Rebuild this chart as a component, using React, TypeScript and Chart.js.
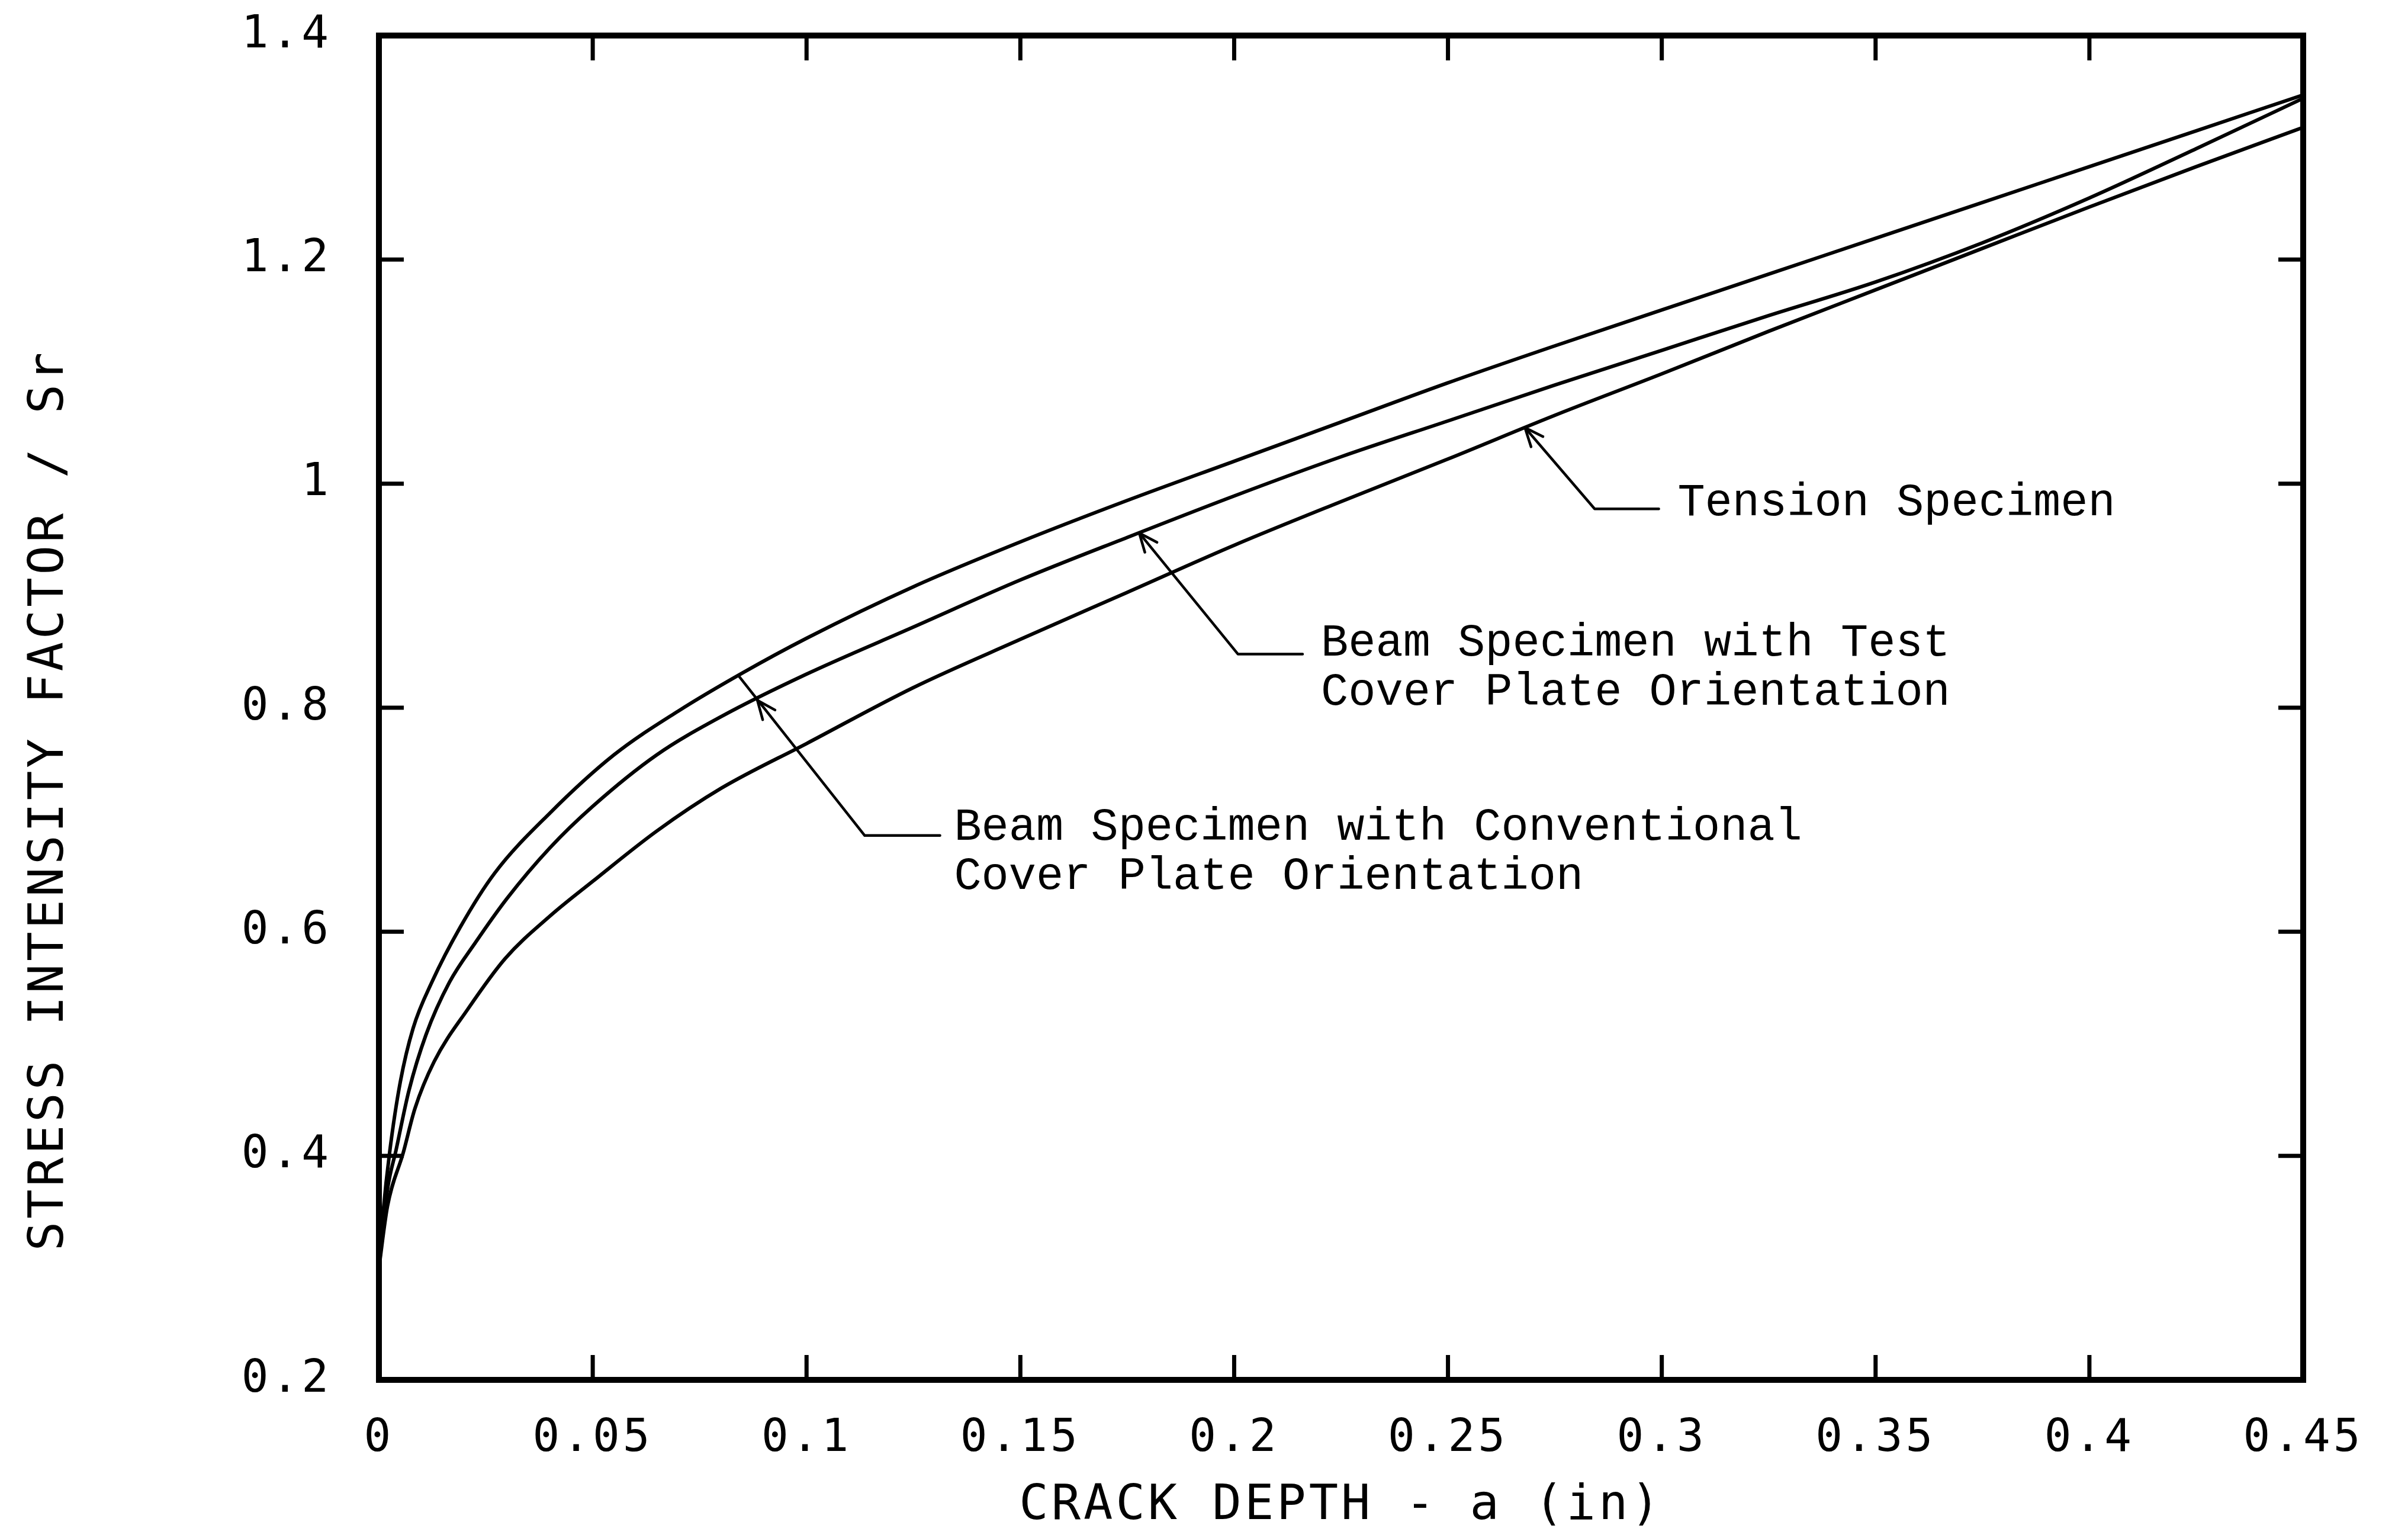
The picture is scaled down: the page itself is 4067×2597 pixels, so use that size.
import React, { useEffect, useRef } from "react";
import { Chart, registerables } from "chart.js";

Chart.register(...registerables);

// ---- Data ----
const conventionalDepth = [0, 0.001, 0.0025, 0.005, 0.008, 0.0125, 0.019, 0.027, 0.04, 0.055, 0.07, 0.085, 0.1, 0.125, 0.15, 0.175, 0.2, 0.225, 0.25, 0.275, 0.3, 0.325, 0.35, 0.375, 0.4, 0.425, 0.45];
const conventionalFactor = [0.3, 0.35, 0.403, 0.466, 0.514, 0.556, 0.604, 0.652, 0.706, 0.758, 0.797, 0.831, 0.862, 0.908, 0.948, 0.985, 1.02, 1.055, 1.09, 1.123, 1.155, 1.187, 1.219, 1.251, 1.283, 1.315, 1.347];

const testDepth = [0, 0.002, 0.004, 0.007, 0.011, 0.0165, 0.0225, 0.03, 0.04, 0.05, 0.065, 0.08, 0.1, 0.125, 0.15, 0.175, 0.2, 0.225, 0.25, 0.275, 0.3, 0.325, 0.35, 0.375, 0.4, 0.425, 0.45];
const testFactor = [0.3, 0.37, 0.405, 0.458, 0.508, 0.555, 0.59, 0.63, 0.675, 0.712, 0.758, 0.792, 0.83, 0.872, 0.914, 0.952, 0.989, 1.024, 1.056, 1.088, 1.119, 1.15, 1.18, 1.215, 1.255, 1.299, 1.344];

const tensionDepth = [0, 0.002, 0.0057, 0.0084, 0.0129, 0.0208, 0.0295, 0.04, 0.05, 0.065, 0.08, 0.1, 0.125, 0.15, 0.175, 0.2, 0.225, 0.25, 0.275, 0.3, 0.325, 0.35, 0.375, 0.4, 0.425, 0.45];
const tensionFactor = [0.3, 0.355, 0.403, 0.442, 0.484, 0.531, 0.576, 0.614, 0.645, 0.69, 0.728, 0.768, 0.818, 0.861, 0.903, 0.945, 0.984, 1.022, 1.061, 1.098, 1.136, 1.173, 1.21, 1.247, 1.283, 1.318];

const xTickValues = [0, 0.05, 0.1, 0.15, 0.2, 0.25, 0.3, 0.35, 0.4, 0.45];
const xTickLabels = ["0", "0.05", "0.1", "0.15", "0.2", "0.25", "0.3", "0.35", "0.4", "0.45"];
const yTickValues = [0.2, 0.4, 0.6, 0.8, 1, 1.2, 1.4];
const yTickLabels = ["0.2", "0.4", "0.6", "0.8", "1", "1.2", "1.4"];

const xTitle = "CRACK DEPTH - a (in)";
const yTitle = "STRESS INTENSITY FACTOR / Sr";

// Annotations (anchored in data units)
const noteLines = [
  ["Tension Specimen"],
  ["Beam Specimen with Test", "Cover Plate Orientation"],
  ["Beam Specimen with Conventional", "Cover Plate Orientation"],
];
const noteTextAnchor = [
  [0.3037, 0.9828],
  [0.2203, 0.8573],
  [0.1345, 0.6927],
];
const noteLineStep = 0.0438;
const noteLeaderEnd = [
  [0.2993, 0.9775],
  [0.216, 0.8478],
  [0.1312, 0.6859],
];
const noteLeaderElbow = [
  [0.2843, 0.9775],
  [0.2009, 0.8478],
  [0.1136, 0.6859],
];
const noteLeaderTip = [
  [0.268, 1.05],
  [0.1778, 0.956],
  [0.084, 0.829],
];
const noteArrowAt = [
  [0.268, 1.05],
  [0.1778, 0.956],
  [0.0885, 0.8066],
];

const TICK_FONT = '"DejaVu Sans Mono", monospace';
const NOTE_FONT = '"Liberation Mono", "Courier New", monospace';

function toPoints(xs: number[], ys: number[]) {
  return xs.map((x, i) => ({ x, y: ys[i] }));
}

function labelFor(values: number[], labels: string[], v: number) {
  const i = values.findIndex((t) => Math.abs(t - v) < 1e-9);
  return i >= 0 ? labels[i] : "";
}

export default function App() {
  const ref = useRef<HTMLCanvasElement>(null);

  useEffect(() => {
    document.body.style.margin = "0";
    const canvas = ref.current;
    if (!canvas) return;

    const framePlugin = {
      id: "frame",
      beforeDraw(chart: any) {
        const ctx = chart.ctx;
        ctx.save();
        ctx.fillStyle = "#ffffff";
        ctx.fillRect(0, 0, chart.width, chart.height);
        ctx.restore();
        ctx.letterSpacing = "5px";
      },
      afterDraw(chart: any) {
        const { ctx, chartArea: a, scales } = chart;
        const xs = scales.x;
        const ys = scales.y;
        const P = (pt: number[]) => [xs.getPixelForValue(pt[0]), ys.getPixelForValue(pt[1])];
        const seg = (x1: number, y1: number, x2: number, y2: number) => {
          ctx.beginPath();
          ctx.moveTo(x1, y1);
          ctx.lineTo(x2, y2);
          ctx.stroke();
        };

        ctx.save();
        ctx.strokeStyle = "#000";
        ctx.fillStyle = "#000";

        // frame box
        ctx.lineWidth = 10;
        ctx.lineJoin = "miter";
        ctx.strokeRect(a.left, a.top, a.right - a.left, a.bottom - a.top);

        // inward ticks on all four sides
        ctx.lineWidth = 7;
        ctx.lineCap = "butt";
        const tl = 42;
        xTickValues.forEach((v) => {
          if (v <= xs.min || v >= xs.max) return;
          const px = xs.getPixelForValue(v);
          seg(px, a.bottom, px, a.bottom - tl);
          seg(px, a.top, px, a.top + tl);
        });
        yTickValues.forEach((v) => {
          if (v <= ys.min || v >= ys.max) return;
          const py = ys.getPixelForValue(v);
          seg(a.left, py, a.left + tl, py);
          seg(a.right, py, a.right - tl, py);
        });

        // y axis title
        ctx.save();
        ctx.letterSpacing = "5px";
        ctx.font = `82px ${TICK_FONT}`;
        ctx.textAlign = "center";
        ctx.textBaseline = "middle";
        ctx.translate(85, (a.top + a.bottom) / 2 + 156);
        ctx.rotate(-Math.PI / 2);
        ctx.fillText(yTitle, 0, 0);
        ctx.restore();

        // annotations
        ctx.lineWidth = 4.5;
        ctx.lineCap = "round";
        ctx.lineJoin = "round";
        noteLines.forEach((lines, i) => {
          const end = P(noteLeaderEnd[i]);
          const elbow = P(noteLeaderElbow[i]);
          const tip = P(noteLeaderTip[i]);
          ctx.beginPath();
          ctx.moveTo(end[0], end[1]);
          ctx.lineTo(elbow[0], elbow[1]);
          ctx.lineTo(tip[0], tip[1]);
          ctx.stroke();
          const ah = P(noteArrowAt[i]);
          const ang = Math.atan2(tip[1] - elbow[1], tip[0] - elbow[0]);
          const L = 34;
          seg(ah[0], ah[1], ah[0] - L * Math.cos(ang - 0.4), ah[1] - L * Math.sin(ang - 0.4));
          seg(ah[0], ah[1], ah[0] - L * Math.cos(ang + 0.4), ah[1] - L * Math.sin(ang + 0.4));

          ctx.save();
          ctx.letterSpacing = "0px";
          ctx.font = `77px ${NOTE_FONT}`;
          ctx.textAlign = "left";
          ctx.textBaseline = "middle";
          lines.forEach((t, k) => {
            const tx = xs.getPixelForValue(noteTextAnchor[i][0]);
            const ty = ys.getPixelForValue(noteTextAnchor[i][1] - k * noteLineStep);
            ctx.fillText(t, tx, ty);
          });
          ctx.restore();
        });

        ctx.restore();
      },
    };

    const lineStyle = {
      borderColor: "#000",
      backgroundColor: "#000",
      borderWidth: 6,
      pointRadius: 0,
      fill: false,
      cubicInterpolationMode: "monotone" as const,
    };

    const chart = new Chart(canvas, {
      type: "line",
      data: {
        datasets: [
          { label: "Beam Specimen with Conventional Cover Plate Orientation", data: toPoints(conventionalDepth, conventionalFactor), ...lineStyle },
          { label: "Beam Specimen with Test Cover Plate Orientation", data: toPoints(testDepth, testFactor), ...lineStyle },
          { label: "Tension Specimen", data: toPoints(tensionDepth, tensionFactor), ...lineStyle },
        ],
      },
      options: {
        animation: false,
        responsive: false,
        devicePixelRatio: 1,
        layout: { padding: { left: 0, top: 60, right: 177, bottom: 0 } },
        plugins: {
          legend: { display: false },
          tooltip: { enabled: false },
        },
        scales: {
          x: {
            type: "linear",
            min: 0,
            max: 0.45,
            afterBuildTicks: (s: any) => {
              s.ticks = xTickValues.map((value) => ({ value }));
            },
            afterFit: (s: any) => {
              s.height = 267;
              s.paddingLeft = 0;
              s.paddingRight = 0;
            },
            grid: { display: false, drawTicks: false },
            border: { display: false },
            ticks: {
              autoSkip: false,
              maxRotation: 0,
              minRotation: 0,
              padding: 55,
              color: "#000",
              font: { family: TICK_FONT, size: 76 },
              callback: (v: any) => labelFor(xTickValues, xTickLabels, Number(v)),
            },
            title: {
              display: true,
              text: xTitle,
              color: "#000",
              font: { family: TICK_FONT, size: 82 },
              padding: { top: 0, bottom: 4 },
            },
          },
          y: {
            type: "linear",
            min: 0.2,
            max: 1.4,
            afterBuildTicks: (s: any) => {
              s.ticks = yTickValues.map((value) => ({ value }));
            },
            afterFit: (s: any) => {
              s.width = 640;
              s.paddingTop = 0;
              s.paddingBottom = 0;
            },
            grid: { display: false, drawTicks: false },
            border: { display: false },
            ticks: {
              autoSkip: false,
              padding: 80,
              color: "#000",
              font: { family: TICK_FONT, size: 76 },
              callback: (v: any) => labelFor(yTickValues, yTickLabels, Number(v)),
            },
          },
        },
      },
      plugins: [framePlugin],
    });

    return () => {
      chart.destroy();
    };
  }, []);

  return (
    <div style={{ width: 4067, height: 2597, background: "#fff" }}>
      <canvas ref={ref} width={4067} height={2597} style={{ display: "block", width: 4067, height: 2597 }} />
    </div>
  );
}
